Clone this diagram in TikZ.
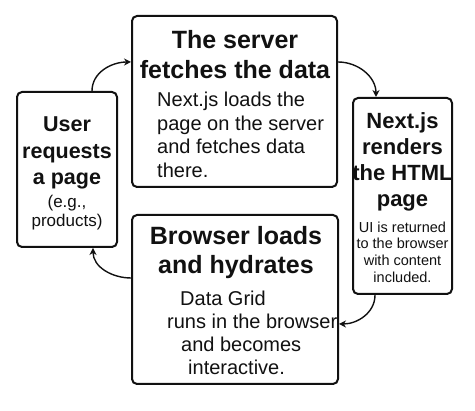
\documentclass[tikz,border=0pt]{standalone}
\usepackage{fontspec}
\setmainfont{Liberation Sans}
\usetikzlibrary{positioning, arrows.meta}
\usepackage{xcolor}
\definecolor{FlowInk}{HTML}{111111}

\begin{document}
\begin{tikzpicture}[x=1pt, y=1pt,
    stagebox/.style={draw=FlowInk, line width=2pt, rounded corners=5pt, fill=white, inner sep=0pt},
    titletext/.style={font=\bfseries, align=center, inner sep=0pt, text=FlowInk},
    bodytext/.style={inner sep=0pt, text=FlowInk},
    cyclearrow/.style={-{Stealth[length=7pt, width=7pt]}, line width=1.4pt, FlowInk}]
                \useasboundingbox (0,0) rectangle (475,411);

                % Boxes
                \node[stagebox, minimum width=100pt, minimum height=155pt] (user) at (67, 241.5) {};
                \node[stagebox, minimum width=205pt, minimum height=171pt] (server) at (234.5, 309.5) {};
                \node[stagebox, minimum width=99pt, minimum height=196pt] (render) at (402.5, 215) {};
                \node[stagebox, minimum width=206pt, minimum height=169pt] (browser) at (235, 111.5) {};

                % Arrows
                \draw[cyclearrow] ([xshift=25pt]user.north) to[out=90, in=180] ([yshift=39.5pt]server.west);
                \draw[cyclearrow] ([yshift=39.5pt]server.east) to[out=0, in=90] ([xshift=-26.5pt]render.north);
                \draw[cyclearrow] ([xshift=-27.5pt]render.south) to[out=-90, in=0] ([yshift=-24.5pt]browser.east);
                \draw[cyclearrow] ([yshift=21.5pt]browser.west) to[out=180, in=-90] ([xshift=26pt]user.south);

                % Labels
                \node[titletext, font=\fontsize{21.5}{26.5}\selectfont\bfseries] (usertitle) at (67, 258) {User\\requests\\a page};
                \node[bodytext, align=center, font=\fontsize{17}{19}\selectfont] (userbody) at (67, 198.5) {(e.g.,\\products)};

                \node[titletext, font=\fontsize{25}{30}\selectfont\bfseries] (servertitle) at (235, 356.5) {The server\\fetches the data};
                \node[bodytext, align=left, anchor=west, font=\fontsize{20}{23.5}\selectfont] (serverbody) at (157, 276) {Next.js loads the\\page on the server\\and fetches data\\there.};

                \node[titletext, font=\fontsize{22}{26}\selectfont\bfseries] (rendertitle) at (402.5, 249) {Next.js\\renders\\the HTML\\page};
                \node[bodytext, align=center, font=\fontsize{14.5}{16.7}\selectfont] (renderbody) at (402.5, 159) {UI is returned\\to the browser\\with content\\included.};

                \node[titletext, font=\fontsize{25}{29}\selectfont\bfseries] (browsertitle) at (236, 158.5) {Browser loads\\and hydrates};
                \node[bodytext, align=left, anchor=west, font=\fontsize{20}{23}\selectfont] (browserbody) at (167, 78) {\hspace*{13pt}Data Grid\\runs in the browser\\\hspace*{14pt}and becomes\\\hspace*{21pt}interactive.};
\end{tikzpicture}
\end{document}
